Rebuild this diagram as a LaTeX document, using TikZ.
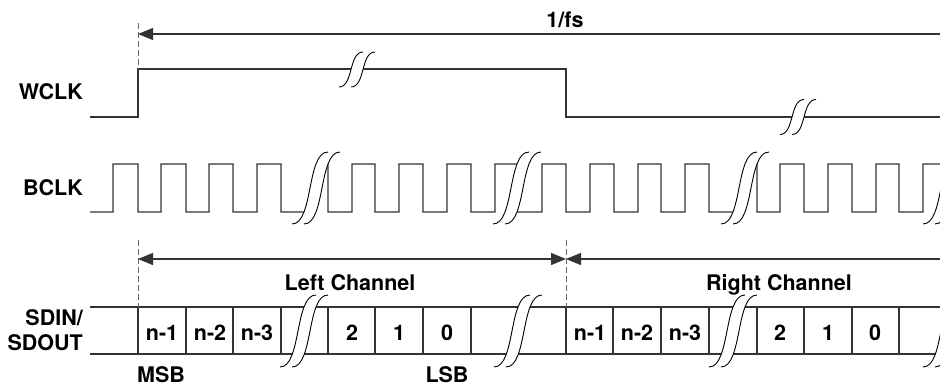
\documentclass[tikz,border=0pt]{standalone}
\usepackage{fontspec}
\setmainfont{TeX Gyre Heros}
\usetikzlibrary{arrows.meta}
\tikzset{
  wave/.style={draw=black!80, line width=1.2pt, line join=miter},
  brkline/.style={draw=black, line width=0.9pt},
  dashln/.style={draw=black!60, line width=1pt, dash pattern=on 6pt off 3pt},
  dimline/.style={draw=black!80, line width=1.2pt},
  tip/.tip={Triangle[length=15pt,width=12pt]},
  lbl/.style={font=\fontsize{21.5}{24}\selectfont\bfseries, inner sep=0pt},
  celltxt/.style={lbl, anchor=base},
}
\newcommand\brkmark[4]{%
  \fill[white] (#1,#2) .. controls ({#1+0.6*#3},#2) and ({#1+0.4*#3},{#2-#4}) .. ({#1+#3},{#2-#4})
     -- ({#1+#3+12},{#2-#4}) .. controls ({#1+0.4*#3+12},{#2-#4}) and ({#1+0.6*#3+12},#2) .. ({#1+12},#2) -- cycle;
  \draw[brkline] (#1,#2) .. controls ({#1+0.6*#3},#2) and ({#1+0.4*#3},{#2-#4}) .. ({#1+#3},{#2-#4});
  \draw[brkline] ({#1+12},#2) .. controls ({#1+0.6*#3+12},#2) and ({#1+0.4*#3+12},{#2-#4}) .. ({#1+#3+12},{#2-#4});
}
\begin{document}
\begin{tikzpicture}[x=1pt,y=-1pt]
\useasboundingbox (0,0) rectangle (940,385);
\clip (0,0) rectangle (940,385);
% labels
\node[lbl, anchor=base east] (wclk) at (83,100) {WCLK};
\node[lbl, anchor=base east] (bclk) at (83,195) {BCLK};
\node[lbl, anchor=base east] (sdin) at (83,325) {SDIN/};
\node[lbl, anchor=base east] (sdout) at (83,350) {SDOUT};
% WCLK
\draw[wave] (90,117) -- (138,117) -- (138,69) -- (566,69) -- (566,117) -- (945,117);
% BCLK
\draw[wave] (90,212) -| (113,164) -| (138,212) -| (161,164) -| (186,212) -| (209,164) -| (233,212) -| (257,164) -| (281,212)
  -- (310,212) -- (322,164) -| (328,212) -| (352,164) -| (375,212) -| (399,164) -| (423,212) -| (447,164) -| (471,212) -| (495,164)
  -- (523,164) -- (511,212) -| (542,164) -| (566,212) -| (590,164) -| (614,212) -| (638,164) -| (661,212) -| (685,164) -| (709,212)
  -- (739,212) -- (751,164) -| (757,212) -| (780,164) -| (804,212) -| (828,164) -| (852,212) -| (876,164) -| (899,212) -| (923,164) -- (945,164);
% SDIN
\draw[wave] (90,307) -- (945,307);
\draw[wave] (90,354) -- (945,354);
\foreach \x in {138,186,233,281,328,375,423,471,566,613,661,709,757,804,852,899}
  \draw[wave] (\x,307) -- (\x,354);
% cell texts
\foreach \x/\t in {162/n-1,210/n-2,257/n-3,352/2,399/1,447/0,590/n-1,637/n-2,685/n-3,780/2,828/1,875/0}
  \node[celltxt] at (\x,340) {\t};
\node[celltxt] (msb) at (161,382) {MSB};
\node[celltxt] (lsb) at (447,382) {LSB};
\node[celltxt] (lch) at (350,290) {Left Channel};
\node[celltxt] (rch) at (779,290) {Right Channel};
% breaks
\brkmark{339}{87}{24}{35}
\brkmark{780}{134.5}{24}{35}
\foreach \x in {292,493,721,923} { \brkmark{\x}{224}{36}{72} }
\foreach \x in {280,494,709,923} { \brkmark{\x}{367}{36}{72} }
% dashed markers
\coordinate (d1t) at (138,23); \coordinate (d1b) at (138,69);
\coordinate (d2t) at (138,240); \coordinate (d2b) at (138,307);
\coordinate (d3t) at (566,240); \coordinate (d3b) at (566,307);
\draw[dashln] (d1t) -- (d1b);
\draw[dashln] (d2t) -- (d2b);
\draw[dashln] (d3t) -- (d3b);
% dimension arrows
\coordinate (fsL) at (138,34); \coordinate (fsR) at (945,34);
\draw[dimline, -tip] (fsR) -- (fsL);
\node[celltxt] (fs) at (565,28) {1/fs};
\coordinate (lcL) at (138,259); \coordinate (lcR) at (566,259);
\coordinate (rcR) at (945,259);
\draw[dimline, tip-tip] (lcL) -- (lcR);
\draw[dimline, -tip] (rcR) -- (lcR);
\end{tikzpicture}
\end{document}
